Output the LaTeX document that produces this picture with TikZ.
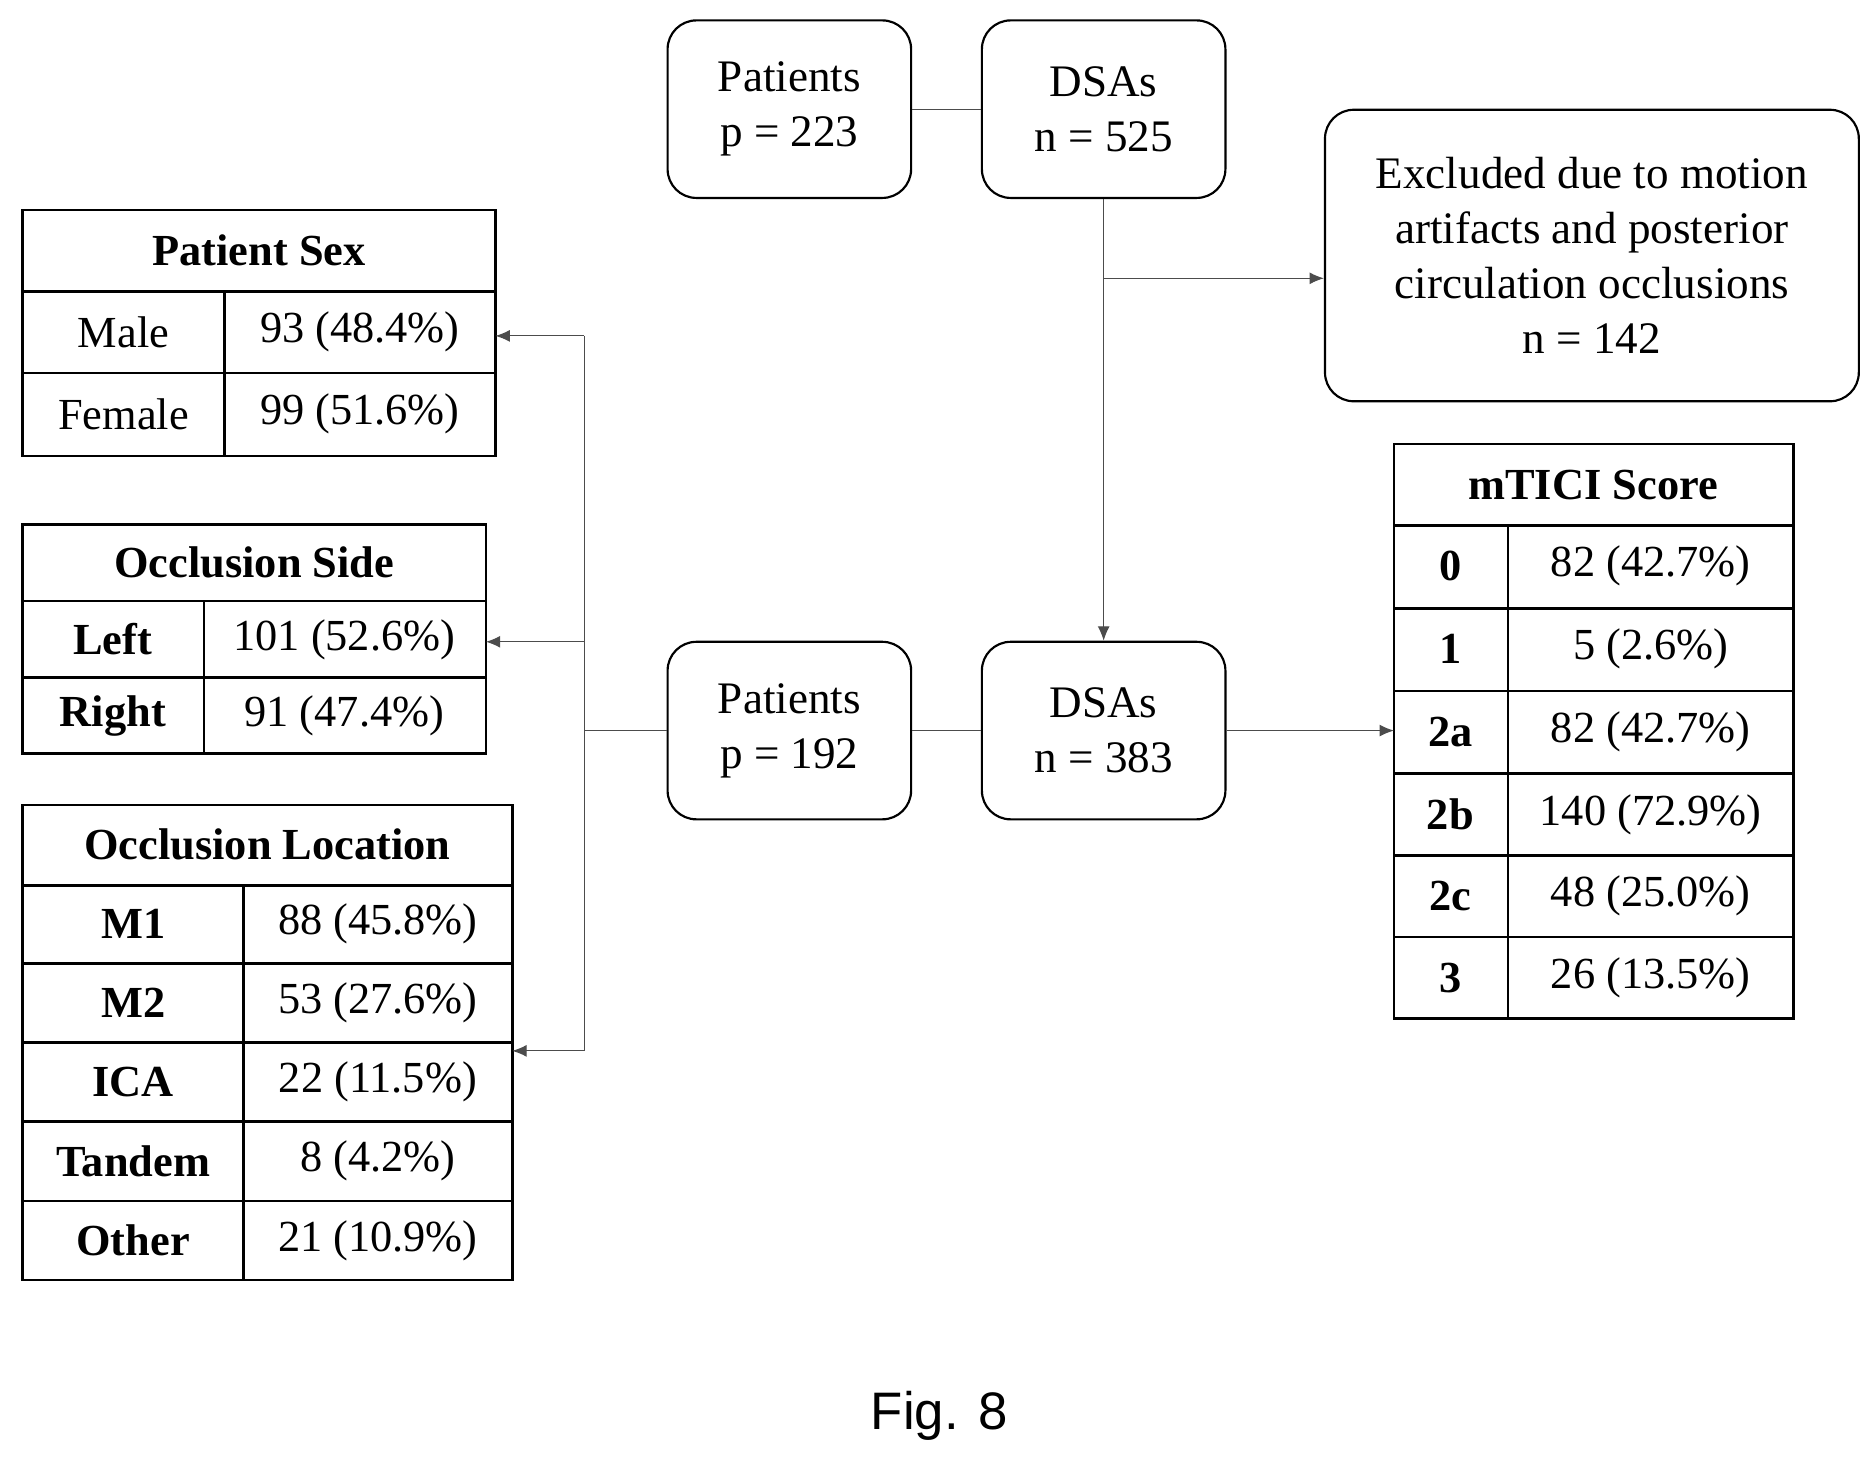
\documentclass[tikz,border=0pt]{standalone}
\usepackage{fontspec}
\setmainfont{Liberation Serif}
\newfontfamily\figfont{Liberation Sans}
\usetikzlibrary{arrows.meta,calc}
\begin{document}
\begin{tikzpicture}[x=0.5pt,y=-0.5pt,
  Box/.style={draw, line width=0.9pt, rounded corners=12pt, align=center, font=\fontsize{18.8}{23}\selectfont},
  Pfeil/.style={draw=black!70, line width=0.5pt, arrows = -{Latex[length=6pt,width=5pt]}},
  Linie/.style={draw=black!70, line width=0.5pt},
  Tab/.style={line width=1.1pt},
  Zelle/.style={font=\fontsize{18.5}{22}\selectfont}]
\useasboundingbox (0,0) rectangle (1563,1220);
% flow boxes
\node[Box, minimum width=101.5pt, minimum height=74pt] (pat1) at (658,91) {Patients\\p = 223};
\node[Box, minimum width=101.5pt, minimum height=74pt] (dsa1) at (920,91) {DSAs\\n = 525};
\node[Box, minimum width=222.5pt, minimum height=121.5pt] (excl) at (1327,213) {Excluded due to motion\\artifacts and posterior\\circulation occlusions\\n = 142};
\node[Box, minimum width=101.5pt, minimum height=74pt] (pat2) at (658,609) {Patients\\p = 192};
\node[Box, minimum width=101.5pt, minimum height=74pt] (dsa2) at (920,609) {DSAs\\n = 383};
\coordinate (split) at (920,232);
\coordinate (links) at (487,609);
\coordinate (sexE) at (413,280);
\coordinate (sideE) at (405,535);
\coordinate (locE) at (427,876);
\coordinate (ticiW) at (1162,609);
% tables
\draw[Tab] (19,175) rectangle (413,380);
\foreach \y in {243,311} \draw[Tab] (19,\y) -- (413,\y);
\draw[Tab] (187,243) -- (187,380);
\node[Zelle, font=\fontsize{18.5}{22}\selectfont\bfseries] (sexH) at (216,209) {Patient Sex};
\node[Zelle] (sexM) at (103,277) {Male};
\node[Zelle] (sexMv) at (300,277) {93 (48.4\%)};
\node[Zelle] (sexF) at (103,345) {Female};
\node[Zelle] (sexFv) at (300,345) {99 (51.6\%)};
\draw[Tab] (19,437) rectangle (405,628);
\foreach \y in {501,565} \draw[Tab] (19,\y) -- (405,\y);
\draw[Tab] (170,501) -- (170,628);
\node[Zelle, font=\fontsize{18.5}{22}\selectfont\bfseries] (sideH) at (212,469) {Occlusion Side};
\foreach \n/\y/\a/\b in {L/533/Left/101 (52.6\%), R/597/Right/91 (47.4\%)} {
  \node[Zelle, font=\fontsize{18.5}{22}\selectfont\bfseries] (side\n) at (94,\y) {\a};
  \node[Zelle] (side\n v) at (287,\y) {\b};
}
\draw[Tab] (19,671) rectangle (427,1067);
\foreach \y in {738,803,869,935,1001} \draw[Tab] (19,\y) -- (427,\y);
\draw[Tab] (203,738) -- (203,1067);
\node[Zelle, font=\fontsize{18.5}{22}\selectfont\bfseries] (locH) at (223,704) {Occlusion Location};
\foreach \n/\y/\a/\b in {a/770/M1/88 (45.8\%), b/836/M2/53 (27.6\%), c/902/ICA/22 (11.5\%), d/968/Tandem/8 (4.2\%), e/1034/Other/21 (10.9\%)} {
  \node[Zelle, font=\fontsize{18.5}{22}\selectfont\bfseries] (loc\n) at (111,\y) {\a};
  \node[Zelle] (loc\n v) at (315,\y) {\b};
}
\draw[Tab] (1162,370) rectangle (1495,849);
\foreach \y in {438,507,576,645,713,781} \draw[Tab] (1162,\y) -- (1495,\y);
\draw[Tab] (1257,438) -- (1257,849);
\node[Zelle, font=\fontsize{18.5}{22}\selectfont\bfseries] (ticiH) at (1328,404) {mTICI Score};
\foreach \n/\y/\a/\b in {a/472/0/82 (42.7\%), b/541/1/5 (2.6\%), c/610/2a/82 (42.7\%), d/679/2b/140 (72.9\%), e/747/2c/48 (25.0\%), f/815/3/26 (13.5\%)} {
  \node[Zelle, font=\fontsize{18.5}{22}\selectfont\bfseries] (tici\n) at (1209,\y) {\a};
  \node[Zelle] (tici\n v) at (1376,\y) {\b};
}
% connectors
\draw[Linie] (pat1) -- (dsa1);
\draw[Pfeil] (dsa1) -- (dsa2);
\draw[Pfeil] (split) -- (excl.west |- split);
\draw[Linie] (pat2) -- (dsa2);
\draw[Pfeil] (dsa2) -- (ticiW);
\draw[Linie] (pat2) -- (links);
\draw[Pfeil] (links |- sexE) -- (sexE);
\draw[Pfeil] (links |- sideE) -- (sideE);
\draw[Pfeil] (links |- locE) -- (locE);
\draw[Linie] (links |- sexE) -- (links |- locE);
\node[font=\figfont\fontsize{22}{26}\selectfont] (fig) at (783,1180) {Fig. 8};
\end{tikzpicture}
\end{document}
